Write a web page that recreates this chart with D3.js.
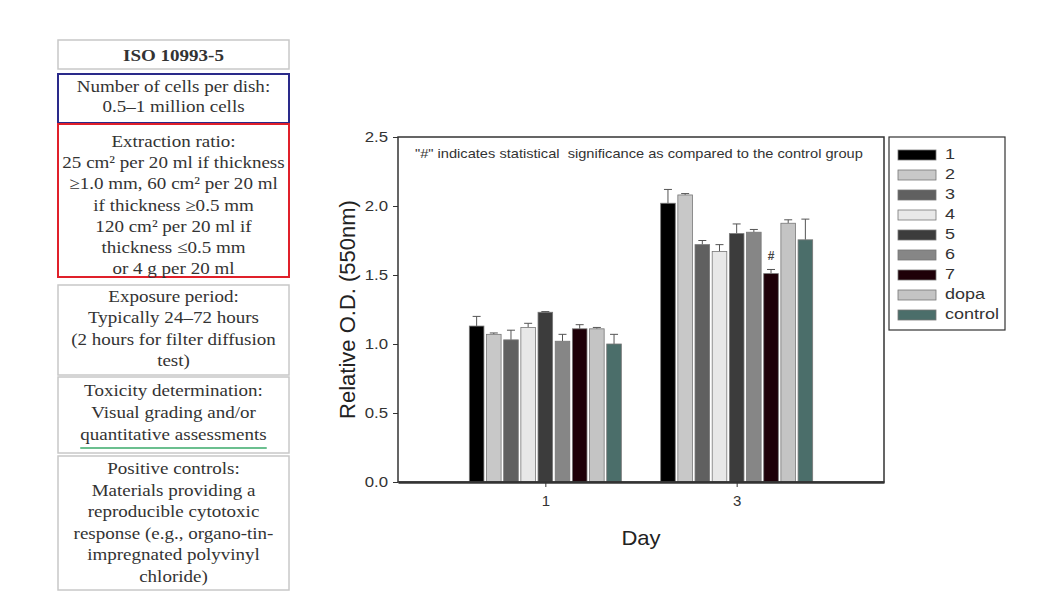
<!DOCTYPE html>
<html><head><meta charset="utf-8">
<script src="https://cdn.jsdelivr.net/npm/d3@7"></script>
<style>body{margin:0;background:#fff;} svg{display:block;}</style>
</head><body>
<svg id="c" width="1056" height="597"></svg>
<script>
// ---- data ----
const days = ["1", "3"];
const series = ["1", "2", "3", "4", "5", "6", "7", "dopa", "control"];
const day1Values = [1.13, 1.07, 1.03, 1.12, 1.23, 1.02, 1.11, 1.11, 1.00];
const day1Errors = [0.07, 0.01, 0.07, 0.03, 0.005, 0.05, 0.03, 0.01, 0.07];
const day3Values = [2.02, 2.08, 1.72, 1.67, 1.80, 1.81, 1.51, 1.875, 1.755];
const day3Errors = [0.10, 0.01, 0.03, 0.05, 0.07, 0.02, 0.03, 0.025, 0.15];
const yTicks = [0, 0.5, 1.0, 1.5, 2.0, 2.5];
const seriesColors = ["#000000", "#c8c8c8", "#606060", "#e8e8e8", "#3c3c3c", "#868686", "#1e0008", "#c4c4c4", "#4b6e6a"];
const significant = [{day: "3", series: "7"}];
const noteText = "\"#\" indicates statistical  significance as compared to the control group";

const panelBoxes = [
  {lines: ["ISO 10993-5"], bold: true, color: "#c8c8c8"},
  {lines: ["Number of cells per dish:", "0.5\u20131 million cells"], color: "#2a2a8a"},
  {lines: ["Extraction ratio:", "25 cm\u00b2 per 20 ml if thickness", "\u22651.0 mm, 60 cm\u00b2 per 20 ml", "if thickness \u22650.5 mm", "120 cm\u00b2 per 20 ml if", "thickness \u22640.5 mm", "or 4 g per 20 ml"], color: "#e0202a"},
  {lines: ["Exposure period:", "Typically 24\u201372 hours", "(2 hours for filter diffusion", "test)"], color: "#c8c8c8"},
  {lines: ["Toxicity determination:", "Visual grading and/or", "quantitative assessments"], color: "#c8c8c8", underlineLast: true},
  {lines: ["Positive controls:", "Materials providing a", "reproducible cytotoxic", "response (e.g., organo-tin-", "impregnated polyvinyl", "chloride)"], color: "#c8c8c8"}
];

const svg = d3.select("#c");
const SANS = "'Liberation Sans', Arial, sans-serif";
const SERIF = "'Liberation Serif', 'Times New Roman', serif";

// helper: text horizontally stretched (the reference image is wider than tall)
function stext(parent, x, y, sx, str) {
  return parent.append("text").attr("transform", `translate(${x},${y}) scale(${sx},1)`).text(str);
}

// ---- left panel ----
const boxGeom = [[40, 69], [74, 123], [124, 277], [285, 375], [377, 453], [456, 590]];
const textTop = [57, 88, 143, 298, 392, 470];
const lineH = [0, 20, 21.2, 21.5, 22, 21.6];
const px0 = 58, px1 = 289;
const panelSx = 1.12;
panelBoxes.forEach((b, i) => {
  const [t, bt] = boxGeom[i];
  const colored = b.color !== "#c8c8c8";
  svg.append("rect").attr("x", px0).attr("y", t).attr("width", px1 - px0).attr("height", bt - t)
    .attr("fill", "#fff").attr("stroke", b.color).attr("stroke-width", colored ? 2 : 1.5);
  b.lines.forEach((ln, j) => {
    const yy = textTop[i] + j * lineH[i];
    const tx = stext(svg, (px0 + px1) / 2, yy, panelSx, ln)
      .attr("text-anchor", "middle").attr("dominant-baseline", "middle")
      .attr("font-family", SERIF).attr("font-size", 17).attr("fill", "#333")
      .attr("font-weight", b.bold ? "bold" : "normal");
    if (b.underlineLast && j === b.lines.length - 1) {
      const w = tx.node().getComputedTextLength() * panelSx;
      svg.append("line").attr("x1", (px0 + px1) / 2 - w / 2).attr("x2", (px0 + px1) / 2 + w / 2)
        .attr("y1", yy + 12).attr("y2", yy + 12)
        .attr("stroke", "#3aaa6a").attr("stroke-width", 1.5);
    }
  });
});

// ---- chart ----
const m = {left: 398, top: 137, right: 884, bottom: 482};
const W = m.right - m.left, H = m.bottom - m.top;
const g = svg.append("g").attr("transform", `translate(${m.left},${m.top})`);

const y = d3.scaleLinear().domain([0, 2.5]).range([H, 0]);
const x0 = d3.scalePoint().domain(days).range([0, W]).padding(0.77);
const x1 = d3.scaleBand().domain(series).range([-76, 76]).paddingInner(0.15);

const dataByDay = {"1": {v: day1Values, e: day1Errors}, "3": {v: day3Values, e: day3Errors}};
const bars = [];
days.forEach(d => series.forEach((s, i) => bars.push({day: d, s, i, v: dataByDay[d].v[i], e: dataByDay[d].e[i]})));

const eg = g.append("g");
bars.forEach(b => {
  const cx = x0(b.day) + x1(b.s) + x1.bandwidth() / 2;
  eg.append("line").attr("x1", cx).attr("x2", cx).attr("y1", y(b.v)).attr("y2", y(b.v + b.e))
    .attr("stroke", "#555").attr("stroke-width", 1);
  eg.append("line").attr("x1", cx - 4).attr("x2", cx + 4).attr("y1", y(b.v + b.e)).attr("y2", y(b.v + b.e))
    .attr("stroke", "#555").attr("stroke-width", 1);
});

g.append("g").selectAll("rect").data(bars).join("rect")
  .attr("x", d => x0(d.day) + x1(d.s))
  .attr("y", d => y(d.v))
  .attr("width", x1.bandwidth())
  .attr("height", d => y(0) - y(d.v))
  .attr("fill", d => seriesColors[d.i])
  .attr("stroke", "#777").attr("stroke-width", 0.8);

significant.forEach(sg => {
  const i = series.indexOf(sg.series);
  const v = dataByDay[sg.day].v[i] + dataByDay[sg.day].e[i];
  g.append("text").attr("x", x0(sg.day) + x1(sg.series) + x1.bandwidth() / 2).attr("y", y(v) - 9)
    .attr("text-anchor", "middle").attr("font-family", SANS)
    .attr("font-size", 12).attr("font-weight", "bold").attr("fill", "#444").text("#");
});

// frame
g.append("rect").attr("x", 0).attr("y", 0).attr("width", W).attr("height", H)
  .attr("fill", "none").attr("stroke", "#333").attr("stroke-width", 1.5);

// axes
const yAxis = g.append("g").call(d3.axisLeft(y).tickValues(yTicks).tickFormat(d3.format(".1f")).tickSize(5).tickSizeOuter(0));
yAxis.select(".domain").remove();
yAxis.selectAll("text").attr("font-family", SANS).attr("font-size", 15).attr("fill", "#333")
  .attr("transform", "translate(-2,0) scale(1.12,1)").attr("x", -8 / 1.12);
yAxis.selectAll("line").attr("stroke", "#333");

const xAxis = g.append("g").attr("transform", `translate(0,${H})`).call(d3.axisBottom(x0).tickSize(5).tickSizeOuter(0));
xAxis.select(".domain").attr("stroke", "#333").attr("stroke-width", 2.5);
xAxis.selectAll("text").attr("font-family", SANS).attr("font-size", 15).attr("fill", "#333").attr("dy", "1.05em");
xAxis.selectAll("line").attr("stroke", "#333");

// note
stext(g, 17, 21, 1.22, noteText).attr("font-family", SANS)
  .attr("font-size", 12).attr("fill", "#333").style("white-space", "pre");

// axis titles
svg.append("text").attr("transform", `translate(355,${(m.top + m.bottom) / 2}) rotate(-90)`)
  .attr("text-anchor", "middle").attr("font-family", SANS)
  .attr("font-size", 22).attr("fill", "#222").text("Relative O.D. (550nm)");
stext(svg, (m.left + m.right) / 2, 545, 1.05, "Day").attr("text-anchor", "middle")
  .attr("font-family", SANS).attr("font-size", 21).attr("fill", "#222");

// legend
const lg = svg.append("g").attr("transform", "translate(889,137)");
lg.append("rect").attr("x", 0).attr("y", 0).attr("width", 116).attr("height", 193)
  .attr("fill", "#fff").attr("stroke", "#333").attr("stroke-width", 1.2);
series.forEach((s, i) => {
  const yy = 18 + i * 20;
  lg.append("rect").attr("x", 9).attr("y", yy - 5).attr("width", 38).attr("height", 10)
    .attr("fill", seriesColors[i]).attr("stroke", "#777").attr("stroke-width", 0.8);
  stext(lg, 56, yy, 1.2, s).attr("dominant-baseline", "middle")
    .attr("font-family", SANS).attr("font-size", 15).attr("fill", "#333");
});
</script>
</body></html>
